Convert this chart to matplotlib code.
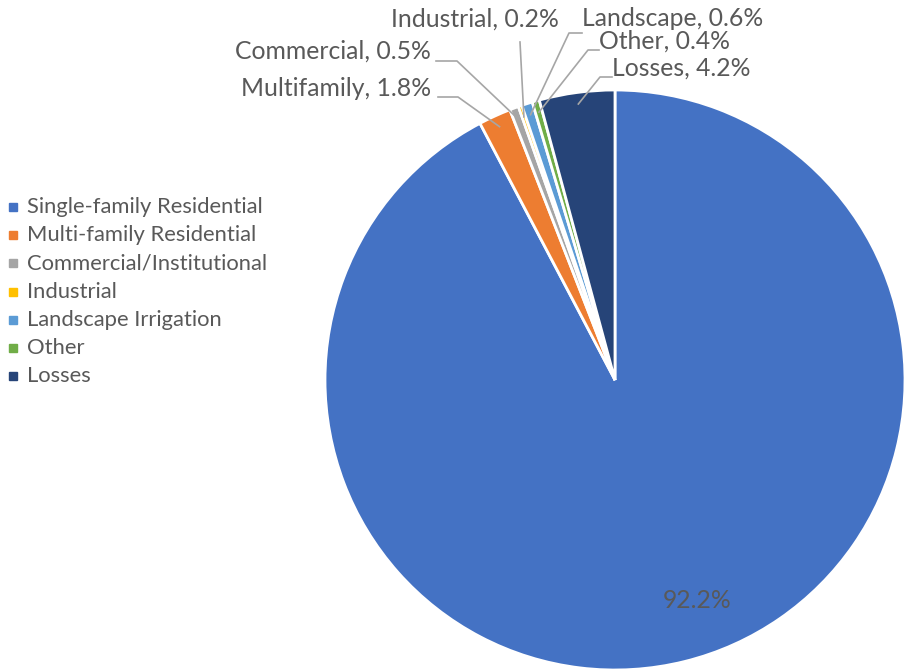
import numpy as np
import matplotlib
matplotlib.use("Agg")
import matplotlib.pyplot as plt
from matplotlib.lines import Line2D

categories = ["Single-family Residential", "Multi-family Residential", "Commercial/Institutional",
              "Industrial", "Landscape Irrigation", "Other", "Losses"]
short_names = ["", "Multifamily", "Commercial", "Industrial", "Landscape", "Other", "Losses"]
shares = [92.2, 1.8, 0.5, 0.2, 0.6, 0.4, 4.2]
colors = ["#4472C4", "#ED7D31", "#A5A5A5", "#FFC000", "#5B9BD5", "#70AD47", "#264478"]

plt.rcParams["font.family"] = ["Lato", "DejaVu Sans"]
W, H = 909, 671
fig = plt.figure(figsize=(W / 100, H / 100), dpi=100)


def fx(x, y):
    # image pixel -> figure fraction
    return (x / W, 1 - y / H)


cx, cy, r = 615, 380, 290
ax = fig.add_axes([(cx - r) / W, (H - cy - r) / H, 2 * r / W, 2 * r / H])
wedges, _ = ax.pie(shares, colors=colors, startangle=90, counterclock=False,
                   wedgeprops=dict(edgecolor="white", linewidth=2))
ax.set_xlim(-1, 1)
ax.set_ylim(-1, 1)
ax.axis("off")

txt = "#595959"
# label text anchor (x, center y), elbow points of the leader line
label_pos = {
    1: dict(xy=(431, 88), ha="right", path=[(438, 97), (458, 97)]),
    2: dict(xy=(431, 51), ha="right", path=[(436, 61), (457, 61)]),
    3: dict(xy=(559, 19), ha="right", path=[(520, 42)]),
    4: dict(xy=(582, 19), ha="left", path=[(582, 33), (569, 33)]),
    5: dict(xy=(599, 41), ha="left", path=[(599, 50), (588, 50)]),
    6: dict(xy=(612, 68), ha="left", path=[(612, 77), (600, 77)]),
}

inv = fig.transFigure.inverted()
for i, spec in label_pos.items():
    w = wedges[i]
    mid = np.deg2rad((w.theta1 + w.theta2) / 2)
    pt = ax.transData.transform((0.96 * np.cos(mid), 0.96 * np.sin(mid)))
    ptf = inv.transform(pt)
    pts = [fx(*p) for p in spec["path"]] + [tuple(ptf)]
    xs, ys = zip(*pts)
    fig.add_artist(Line2D(xs, ys, color="#A6A6A6", lw=1.2, transform=fig.transFigure))
    fig.text(*fx(*spec["xy"]), f"{short_names[i]}, {shares[i]}%", ha=spec["ha"],
             va="center", fontsize=17.8, color=txt)

fig.text(*fx(697, 600), f"{shares[0]}%", ha="center", va="center", fontsize=17.8, color=txt)

# legend
for k, (name, c) in enumerate(zip(categories, colors)):
    y = 207 + k * 28.2
    fig.patches.append(plt.Rectangle(fx(9, y + 4), 8 / W, 8 / H, color=c,
                                     transform=fig.transFigure, figure=fig))
    fig.text(*fx(27, y), name, ha="left", va="center", fontsize=15.8, color=txt)

fig.savefig("out.png", dpi=100, facecolor="white")
